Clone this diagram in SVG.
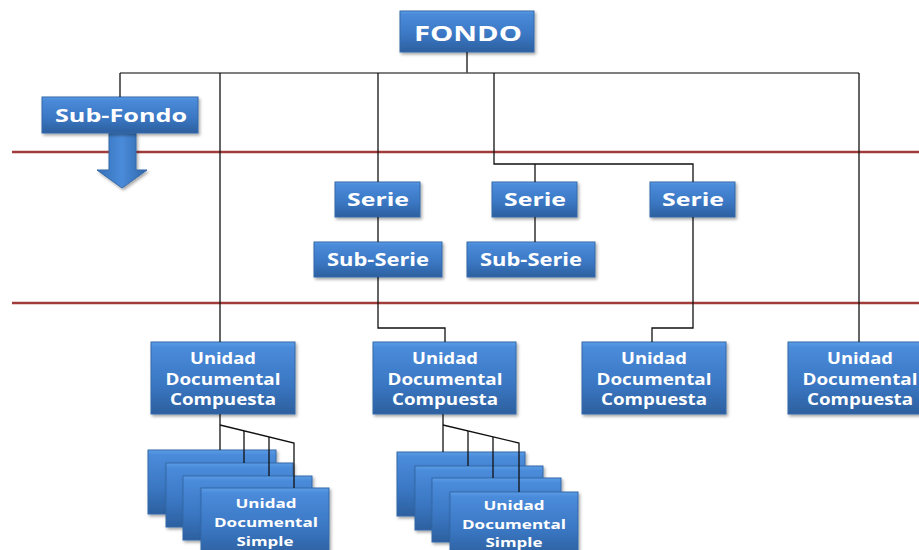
<svg xmlns="http://www.w3.org/2000/svg" width="919" height="550" viewBox="0 0 919 550">
<defs>
<linearGradient id="g" x1="0" y1="0" x2="0" y2="1">
<stop offset="0" stop-color="#5C9CE6"/>
<stop offset="0.08" stop-color="#4A8BDA"/>
<stop offset="0.6" stop-color="#3A76C2"/>
<stop offset="1" stop-color="#2C609F"/>
</linearGradient>
<linearGradient id="ga" x1="0" y1="0" x2="1" y2="0">
<stop offset="0" stop-color="#3470B8"/>
<stop offset="0.5" stop-color="#4A8BDA"/>
<stop offset="1" stop-color="#2F66AA"/>
</linearGradient>
<filter id="sh" x="-10%" y="-10%" width="125%" height="135%">
<feDropShadow dx="1.5" dy="2" stdDeviation="1.5" flood-color="#000" flood-opacity="0.35"/>
</filter>
</defs>
<style>
.box{fill:url(#g);stroke:#3569A8;stroke-width:1;filter:url(#sh)}
.t{font-family:"Open Sans","Liberation Sans",sans-serif;font-weight:bold;fill:#fff;text-anchor:middle}
.s{font-size:13px}
.c{fill:none;stroke:#111;stroke-width:1.3}
.red{stroke:#A23B3B;stroke-width:2.5}
</style>
<rect width="919" height="550" fill="#fff"/>
<line class="red" x1="12" y1="152" x2="919" y2="152"/>
<line class="red" x1="12" y1="303" x2="919" y2="303"/>

<g id="nodes">
<g id="fondo">
<rect class="box" x="400" y="11" width="134" height="41"/>
<text class="t" x="468" y="41" font-size="21" textLength="108" lengthAdjust="spacingAndGlyphs">FONDO</text>
</g>
<g id="subfondo">
<polygon points="109,133 136,133 136,170 147,170 122,188 97,170 109,170" fill="url(#ga)" stroke="#3569A8" stroke-width="1" filter="url(#sh)"/>
<rect class="box" x="42" y="97" width="156" height="36"/>
<text class="t" x="121" y="122" font-size="18" textLength="132" lengthAdjust="spacingAndGlyphs">Sub-Fondo</text>
</g>
<g id="serie1">
<rect class="box" x="335" y="182" width="85" height="35"/>
<text class="t" x="378" y="206" font-size="18" textLength="62" lengthAdjust="spacingAndGlyphs">Serie</text>
</g>
<g id="serie2">
<rect class="box" x="492" y="182" width="85" height="35"/>
<text class="t" x="535" y="206" font-size="18" textLength="62" lengthAdjust="spacingAndGlyphs">Serie</text>
</g>
<g id="serie3">
<rect class="box" x="650" y="182" width="85" height="35"/>
<text class="t" x="693" y="206" font-size="18" textLength="62" lengthAdjust="spacingAndGlyphs">Serie</text>
</g>
<g id="subserie1">
<rect class="box" x="314" y="242" width="128" height="35"/>
<text class="t" x="378" y="266" font-size="18" textLength="102" lengthAdjust="spacingAndGlyphs">Sub-Serie</text>
</g>
<g id="subserie2">
<rect class="box" x="467" y="242" width="128" height="35"/>
<text class="t" x="531" y="266" font-size="18" textLength="102" lengthAdjust="spacingAndGlyphs">Sub-Serie</text>
</g>
<g id="udc1">
<rect class="box" x="151" y="342" width="144" height="72"/>
<text class="t" x="223" y="364" font-size="15.5" textLength="66" lengthAdjust="spacingAndGlyphs">Unidad</text>
<text class="t" x="223" y="385" font-size="15.5" textLength="115" lengthAdjust="spacingAndGlyphs">Documental</text>
<text class="t" x="223" y="405" font-size="15.5" textLength="106" lengthAdjust="spacingAndGlyphs">Compuesta</text>
</g>
<g id="udc2">
<rect class="box" x="373" y="342" width="143" height="72"/>
<text class="t" x="445" y="364" font-size="15.5" textLength="66" lengthAdjust="spacingAndGlyphs">Unidad</text>
<text class="t" x="445" y="385" font-size="15.5" textLength="115" lengthAdjust="spacingAndGlyphs">Documental</text>
<text class="t" x="445" y="405" font-size="15.5" textLength="106" lengthAdjust="spacingAndGlyphs">Compuesta</text>
</g>
<g id="udc3">
<rect class="box" x="582" y="342" width="144" height="72"/>
<text class="t" x="654" y="364" font-size="15.5" textLength="66" lengthAdjust="spacingAndGlyphs">Unidad</text>
<text class="t" x="654" y="385" font-size="15.5" textLength="115" lengthAdjust="spacingAndGlyphs">Documental</text>
<text class="t" x="654" y="405" font-size="15.5" textLength="106" lengthAdjust="spacingAndGlyphs">Compuesta</text>
</g>
<g id="udc4">
<rect class="box" x="788" y="342" width="144" height="72"/>
<text class="t" x="860" y="364" font-size="15.5" textLength="66" lengthAdjust="spacingAndGlyphs">Unidad</text>
<text class="t" x="860" y="385" font-size="15.5" textLength="115" lengthAdjust="spacingAndGlyphs">Documental</text>
<text class="t" x="860" y="405" font-size="15.5" textLength="106" lengthAdjust="spacingAndGlyphs">Compuesta</text>
</g>

<g id="uds1-a"><rect class="box" x="148" y="450" width="128" height="64"/></g>
<g id="uds1-b"><rect class="box" x="166" y="463" width="127" height="64"/></g>
<g id="uds1-c"><rect class="box" x="183" y="476" width="129" height="64"/></g>
<g id="uds1-d">
<rect class="box" x="201" y="488" width="128" height="68"/>
<text class="t s" x="266" y="508" textLength="61" lengthAdjust="spacingAndGlyphs">Unidad</text>
<text class="t s" x="266" y="527" textLength="104" lengthAdjust="spacingAndGlyphs">Documental</text>
<text class="t s" x="265" y="546" textLength="57" lengthAdjust="spacingAndGlyphs">Simple</text>
</g>

<g id="uds2-a"><rect class="box" x="397" y="452" width="128" height="64"/></g>
<g id="uds2-b"><rect class="box" x="415" y="466" width="128" height="64"/></g>
<g id="uds2-c"><rect class="box" x="432" y="478" width="129" height="64"/></g>
<g id="uds2-d">
<rect class="box" x="450" y="492" width="128" height="64"/>
<text class="t s" x="514" y="510" textLength="61" lengthAdjust="spacingAndGlyphs">Unidad</text>
<text class="t s" x="514" y="529" textLength="104" lengthAdjust="spacingAndGlyphs">Documental</text>
<text class="t s" x="514" y="547" textLength="57" lengthAdjust="spacingAndGlyphs">Simple</text>
</g>
</g>

<g id="connectors" class="c">
<path d="M467,52 V73"/>
<path d="M120,73 H859" stroke="#555" stroke-width="1.6"/>
<path d="M120,73 V97"/>
<path d="M220,73 V342"/>
<path d="M378,73 V182"/>
<path d="M494,73 V164 H693 V182"/>
<path d="M535,164 V182"/>
<path d="M859,73 V342"/>
<path d="M378,217 V242"/>
<path d="M535,217 V242"/>
<path d="M378,277 V328 H445 V342"/>
<path d="M693,217 V328 H652 V342"/>
<path d="M220,414 V450"/>
<path d="M220,425 L294,443 V488"/>
<path d="M244,431 V463"/>
<path d="M269,437 V476"/>
<path d="M443,414 V452"/>
<path d="M443,425 L519,443 V492"/>
<path d="M468,431 V466"/>
<path d="M493,437 V478"/>
</g>
</svg>
